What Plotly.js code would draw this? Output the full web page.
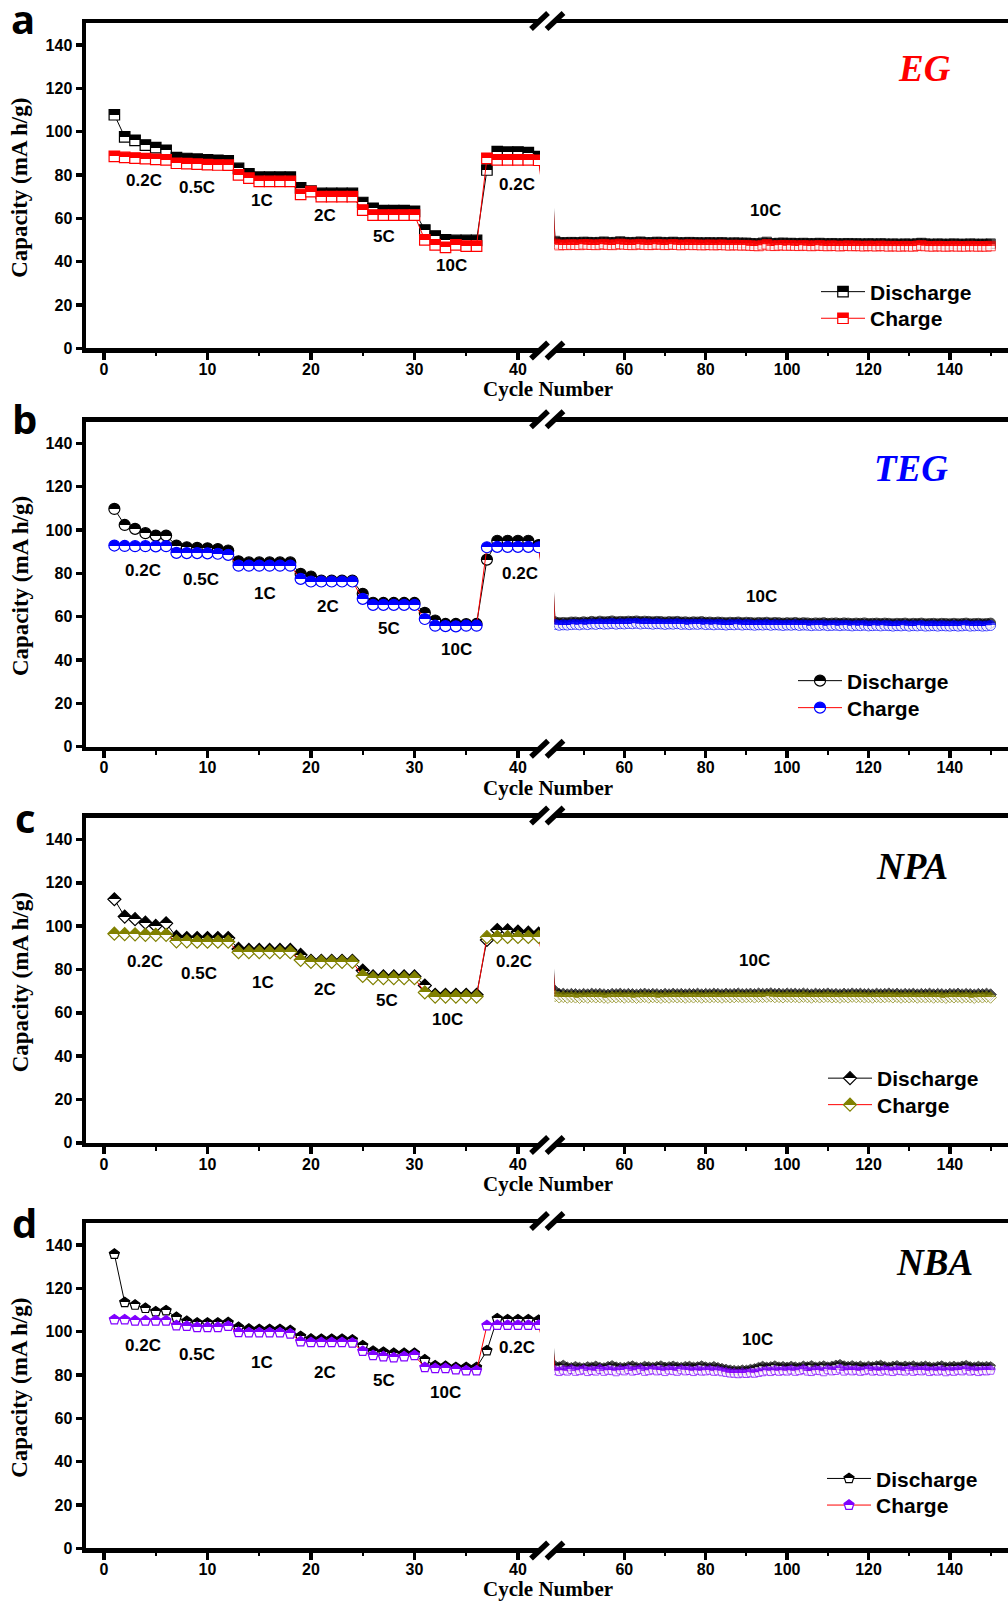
<!DOCTYPE html>
<html>
<head>
<meta charset="utf-8">
<script src="https://cdn.plot.ly/plotly-3.0.1.min.js"></script>
<style>
  html, body { margin: 0; padding: 0; background: #ffffff; }
  #chart { width: 1008px; height: 1602px; }
</style>
</head>
<body>
<div id="chart"></div>
<script>
// Rate capability of four electrolytes: capacity per cycle (mA h/g).
// Cycles 1-42 step through 0.2C, 0.5C, 1C, 2C, 5C, 10C, 0.2C (6 cycles each);
// cycles 43-150 are a long run at 10C.

const panelNames = ['EG', 'TEG', 'NPA', 'NBA'];
const panelLetters = ['a', 'b', 'c', 'd'];
const seriesNames = ['Discharge', 'Charge'];
const rateLabels = ['0.2C', '0.5C', '1C', '2C', '5C', '10C', '0.2C'];
const longRateLabel = '10C';
const leftTicks = [0, 10, 20, 30, 40];
const rightTicks = [60, 80, 100, 120, 140];
const capacityTicks = [0, 20, 40, 60, 80, 100, 120, 140];

const egDischarge = [
  107.8, 97.6, 96.0, 93.8, 92.6, 91.4,
  88.0, 87.6, 87.3, 87.0, 86.8, 86.5,
  83.0, 80.5, 79.0, 79.0, 79.0, 79.0,
  74.0, 72.5, 71.5, 71.5, 71.5, 71.5,
  67.3, 64.6, 63.5, 63.5, 63.5, 63.2,
  54.6, 51.8, 50.0, 49.8, 49.8, 49.8,
  82.3, 90.8, 90.5, 90.6, 90.3, 88.5,
  49.5, 48.8, 48.9, 48.8, 49.0, 48.9, 48.8, 49.1, 49.0, 48.9, 48.8, 49.0, 49.2, 48.9, 48.8, 49.0, 49.3, 49.0,
  48.9, 48.8, 49.0, 49.2, 48.9, 48.8, 48.9, 49.1, 49.0, 48.8, 48.9, 49.1, 48.9, 48.7, 48.9, 49.0, 48.8, 48.9, 48.7, 48.8,
  48.9, 48.7, 48.8, 48.9, 48.7, 48.6, 48.8, 48.7, 48.6, 48.7, 48.5, 48.4, 48.3, 48.7, 49.1, 48.5, 48.4, 48.6, 48.7, 48.5,
  48.6, 48.5, 48.4, 48.6, 48.5, 48.3, 48.5, 48.6, 48.4, 48.3, 48.5, 48.4, 48.2, 48.4, 48.5, 48.3, 48.4, 48.3, 48.2, 48.4,
  48.3, 48.2, 48.4, 48.3, 48.1, 48.3, 48.2, 48.1, 48.3, 48.2, 48.1, 48.4, 48.6, 48.3, 48.2, 48.1, 48.3, 48.2, 48.1, 48.2,
  48.3, 48.1, 48.2, 48.1, 48.3, 48.2, 48.1, 48.2, 48.1, 48.3
];
const egCharge = [
  88.6, 88.1, 87.8, 87.5, 87.2, 87.0,
  85.4, 85.2, 85.0, 84.8, 84.6, 84.5,
  80.0, 78.5, 77.0, 77.0, 77.0, 77.0,
  71.0, 72.3, 70.0, 70.0, 70.0, 70.0,
  63.8, 61.5, 61.5, 61.5, 61.5, 61.5,
  50.0, 47.7, 46.6, 47.7, 47.2, 47.2,
  87.7, 87.0, 87.0, 87.0, 87.0, 86.8,
  48.2, 47.6, 47.8, 47.7, 47.9, 47.8, 47.7, 48.0, 47.9, 47.8, 47.7, 47.9, 48.1, 47.8, 47.7, 47.9, 48.2, 47.9,
  47.8, 47.7, 47.9, 48.1, 47.8, 47.7, 47.8, 48.0, 47.9, 47.7, 47.8, 48.0, 47.8, 47.6, 47.8, 47.9, 47.7, 47.8, 47.6, 47.7,
  47.8, 47.6, 47.7, 47.8, 47.6, 47.5, 47.7, 47.6, 47.5, 47.6, 47.4, 47.3, 47.2, 47.6, 48.0, 47.4, 47.3, 47.5, 47.6, 47.4,
  47.5, 47.4, 47.3, 47.5, 47.4, 47.2, 47.4, 47.5, 47.3, 47.2, 47.4, 47.3, 47.1, 47.3, 47.4, 47.2, 47.3, 47.2, 47.1, 47.3,
  47.2, 47.1, 47.3, 47.2, 47.0, 47.2, 47.1, 47.0, 47.2, 47.1, 47.0, 47.3, 47.5, 47.2, 47.1, 47.0, 47.2, 47.1, 47.0, 47.1,
  47.2, 47.0, 47.1, 47.0, 47.2, 47.1, 47.0, 47.1, 47.0, 47.2
];

const tegDischarge = [
  109.7, 102.3, 100.5, 98.5, 97.4, 97.4,
  92.8, 92.0, 91.7, 91.5, 91.2, 90.5,
  85.5, 85.0, 85.0, 85.0, 85.0, 85.0,
  79.7, 78.5, 76.6, 76.6, 76.6, 76.6,
  70.5, 66.4, 66.3, 66.3, 66.3, 66.3,
  61.7, 58.2, 56.6, 56.6, 56.5, 56.6,
  86.3, 95.0, 95.0, 95.0, 95.0, 93.0,
  57.6, 57.2, 57.3, 57.2, 57.5, 57.5, 57.3, 57.6, 57.4, 57.8, 57.5, 57.9, 57.6, 57.7, 58.0, 57.6, 57.8, 57.7,
  57.9, 57.8, 58.0, 57.7, 57.9, 57.8, 57.6, 57.8, 57.7, 57.5, 57.7, 57.6, 57.8, 57.5, 57.6, 57.4, 57.6, 57.5, 57.7, 57.4,
  57.5, 57.3, 57.5, 57.4, 57.2, 57.4, 57.3, 57.5, 57.2, 57.4, 57.3, 57.1, 57.3, 57.2, 57.4, 57.1, 57.3, 57.2, 57.0, 57.2,
  57.1, 57.3, 57.0, 57.2, 57.1, 56.9, 57.1, 57.0, 57.2, 56.9, 57.0, 57.1, 56.9, 57.1, 57.0, 56.8, 57.0, 56.9, 57.1, 56.8,
  56.9, 57.0, 56.8, 57.0, 56.9, 56.7, 56.9, 56.8, 57.0, 56.7, 56.9, 56.8, 57.0, 56.7, 56.8, 56.9, 56.7, 56.9, 56.8, 56.7,
  56.9, 56.7, 56.8, 57.0, 56.7, 56.8, 56.9, 56.7, 56.8, 57.0
];
const tegCharge = [
  92.8, 92.6, 92.5, 92.5, 92.4, 92.5,
  89.4, 89.3, 89.3, 89.2, 89.0, 88.5,
  83.5, 83.5, 83.5, 83.5, 83.5, 83.5,
  77.4, 76.2, 76.2, 76.2, 76.2, 76.2,
  68.2, 65.4, 65.4, 65.4, 65.4, 65.4,
  58.9, 55.8, 55.6, 55.5, 55.8, 55.8,
  92.0, 92.2, 92.2, 92.2, 92.2, 92.0,
  56.4, 56.0, 56.2, 56.1, 56.3, 56.4, 56.2, 56.5, 56.3, 56.6, 56.4, 56.7, 56.5, 56.6, 56.8, 56.5, 56.7, 56.6,
  56.8, 56.7, 56.9, 56.6, 56.8, 56.7, 56.5, 56.7, 56.6, 56.4, 56.6, 56.5, 56.7, 56.4, 56.5, 56.3, 56.5, 56.4, 56.6, 56.3,
  56.4, 56.2, 56.4, 56.3, 56.1, 56.3, 56.2, 56.4, 56.1, 56.3, 56.2, 56.0, 56.2, 56.1, 56.3, 56.0, 56.2, 56.1, 55.9, 56.1,
  56.0, 56.2, 55.9, 56.1, 56.0, 55.8, 56.0, 55.9, 56.1, 55.8, 55.9, 56.0, 55.8, 56.0, 55.9, 55.7, 55.9, 55.8, 56.0, 55.7,
  55.8, 55.9, 55.7, 55.9, 55.8, 55.6, 55.8, 55.7, 55.9, 55.6, 55.8, 55.7, 55.9, 55.6, 55.7, 55.8, 55.6, 55.8, 55.7, 55.6,
  55.8, 55.6, 55.7, 55.9, 55.6, 55.7, 55.8, 55.6, 55.7, 55.9
];

const npaDischarge = [
  112.4, 104.4, 103.2, 101.6, 100.1, 101.3,
  95.0, 94.5, 94.5, 94.5, 94.5, 94.5,
  89.5, 89.0, 89.0, 89.0, 89.0, 89.0,
  86.7, 84.0, 84.0, 84.0, 84.0, 84.0,
  79.5, 76.8, 76.8, 76.8, 76.8, 76.8,
  72.6, 68.3, 68.3, 68.3, 68.3, 68.3,
  93.6, 98.2, 98.0, 97.5, 97.0, 96.5,
  70.0, 68.6, 68.7, 68.4, 68.6, 68.5, 68.3, 68.6, 68.4, 68.7, 68.5, 68.6, 68.4, 68.3, 68.6, 68.5, 68.7, 68.4,
  68.6, 68.5, 68.3, 68.5, 68.7, 68.4, 68.6, 68.5, 68.3, 68.6, 68.4, 68.7, 68.5, 68.6, 68.4, 68.6, 68.5, 68.7, 68.4, 68.6,
  68.5, 68.7, 68.6, 68.4, 68.7, 68.5, 68.6, 68.8, 68.5, 68.6, 68.7, 68.5, 68.8, 68.6, 68.7, 68.9, 68.6, 68.7, 68.5, 68.8,
  68.6, 68.7, 68.5, 68.8, 68.6, 68.4, 68.7, 68.5, 68.6, 68.8, 68.5, 68.6, 68.4, 68.7, 68.5, 68.8, 68.6, 68.7, 68.5, 68.6,
  68.4, 68.7, 68.5, 68.6, 68.8, 68.5, 68.7, 68.4, 68.6, 68.5, 68.7, 68.4, 68.6, 68.5, 68.7, 68.4, 68.6, 68.5, 68.3, 68.6,
  68.5, 68.7, 68.4, 68.6, 68.5, 68.3, 68.6, 68.5, 68.7, 68.4
];
const npaCharge = [
  96.5, 96.3, 96.2, 96.0, 96.0, 96.0,
  93.0, 93.0, 92.8, 92.8, 92.8, 92.8,
  88.0, 88.0, 88.0, 88.0, 88.0, 88.0,
  84.4, 83.5, 83.5, 83.5, 83.5, 83.5,
  77.0, 76.0, 76.0, 76.0, 76.0, 76.0,
  69.4, 67.5, 67.5, 67.5, 67.5, 67.5,
  94.9, 95.0, 95.0, 95.0, 95.0, 95.0,
  67.8, 67.2, 67.4, 67.1, 67.3, 67.2, 67.0, 67.3, 67.1, 67.4, 67.2, 67.3, 67.1, 67.0, 67.3, 67.2, 67.4, 67.1,
  67.3, 67.2, 67.0, 67.2, 67.4, 67.1, 67.3, 67.2, 67.0, 67.3, 67.1, 67.4, 67.2, 67.3, 67.1, 67.3, 67.2, 67.4, 67.1, 67.3,
  67.2, 67.4, 67.3, 67.1, 67.4, 67.2, 67.3, 67.5, 67.2, 67.3, 67.4, 67.2, 67.5, 67.3, 67.4, 67.6, 67.3, 67.4, 67.2, 67.5,
  67.3, 67.4, 67.2, 67.5, 67.3, 67.1, 67.4, 67.2, 67.3, 67.5, 67.2, 67.3, 67.1, 67.4, 67.2, 67.5, 67.3, 67.4, 67.2, 67.3,
  67.1, 67.4, 67.2, 67.3, 67.5, 67.2, 67.4, 67.1, 67.3, 67.2, 67.4, 67.1, 67.3, 67.2, 67.4, 67.1, 67.3, 67.2, 67.0, 67.3,
  67.2, 67.4, 67.1, 67.3, 67.2, 67.0, 67.3, 67.2, 67.4, 67.1
];

const nbaDischarge = [
  135.8, 113.5, 112.3, 110.8, 109.2, 109.7,
  106.6, 104.8, 104.0, 104.0, 104.0, 104.2,
  102.0, 101.2, 101.0, 101.0, 101.0, 100.5,
  97.8, 96.6, 96.5, 96.5, 96.5, 96.2,
  93.5, 91.0, 90.5, 90.0, 90.0, 90.0,
  87.0, 84.3, 84.0, 83.5, 83.5, 83.5,
  91.2, 106.0, 105.5, 105.5, 105.5, 105.3,
  84.2, 83.8, 84.5, 83.6, 83.4, 83.9, 83.5, 83.2, 83.8, 83.6, 84.1, 83.5, 83.3, 83.9, 84.3, 83.7, 83.5, 83.4,
  83.9, 84.2, 83.6, 83.4, 84.0, 83.8, 83.5, 83.9, 84.2, 83.6, 83.8, 84.1, 83.7, 83.5, 83.9, 84.0, 83.6, 83.8, 84.2, 83.7,
  83.5, 83.9, 83.4, 83.0, 82.6, 82.3, 82.1, 82.0, 82.3, 82.2, 82.6, 82.9, 83.5, 84.0, 83.6, 83.8, 84.2, 83.7, 83.9, 83.6,
  84.0, 83.7, 83.5, 84.1, 83.8, 84.3, 83.6, 83.9, 84.2, 83.7, 84.0, 84.5, 84.8, 84.2, 83.9, 84.3, 83.8, 84.1, 83.6, 84.0,
  83.8, 84.2, 84.5, 83.9, 83.6, 84.0, 84.3, 83.7, 84.1, 83.8, 84.2, 83.6, 83.9, 84.1, 83.7, 83.5, 83.9, 84.2, 83.6, 83.8,
  84.0, 83.7, 84.1, 84.4, 83.8, 83.6, 84.0, 83.7, 83.9, 83.8
];
const nbaCharge = [
  105.5, 105.5, 105.0, 105.0, 105.0, 105.0,
  102.8, 102.5, 102.0, 102.0, 102.0, 102.5,
  99.7, 99.5, 99.5, 99.5, 99.5, 99.0,
  95.4, 95.0, 95.0, 95.0, 95.0, 94.8,
  91.0, 89.0, 88.5, 88.0, 88.5, 89.0,
  83.5, 83.0, 83.0, 82.5, 82.0, 82.0,
  102.8, 103.0, 103.0, 103.0, 103.0, 103.0,
  82.0, 81.6, 82.2, 81.8, 82.5, 81.7, 82.0, 82.4, 81.6, 82.1, 81.8, 82.6, 81.7, 82.2, 82.0, 81.5, 82.3, 81.9,
  82.5, 81.8, 82.1, 82.6, 81.7, 82.0, 82.4, 81.9, 82.2, 81.6, 82.3, 82.0, 81.7, 82.4, 81.9, 82.1, 81.6, 82.2, 81.8, 81.9,
  82.2, 81.7, 81.9, 81.5, 81.2, 80.9, 80.8, 80.6, 80.9, 80.7, 81.0, 80.8, 81.2, 81.5, 81.9, 81.6, 82.1, 81.7, 82.0, 81.8,
  82.3, 81.7, 82.0, 82.5, 81.8, 81.6, 82.2, 82.0, 81.5, 82.4, 81.9, 82.1, 82.8, 81.8, 82.3, 81.9, 82.2, 81.7, 82.0, 82.4,
  81.8, 82.1, 81.7, 82.3, 81.9, 81.6, 82.2, 82.0, 81.8, 82.4, 81.7, 82.1, 81.9, 82.3, 81.6, 82.0, 81.8, 82.2, 81.5, 82.0,
  81.7, 82.2, 81.9, 82.4, 81.8, 82.1, 81.6, 82.0, 81.9, 82.2
];

const dischargeSeries = [egDischarge, tegDischarge, npaDischarge, nbaDischarge];
const chargeSeries = [egCharge, tegCharge, npaCharge, nbaCharge];

// ---- styling ----
const W = 1008, H = 1602;
const SANS = 'Liberation Sans, Arial, sans-serif';
const SERIF = 'Liberation Serif, Times New Roman, serif';
const chargeColors = ['#ff0000', '#0000ff', '#808000', '#8000ff'];
const titleColors = ['#ff0000', '#0000ff', '#000000', '#000000'];
const symbols = ['square', 'circle', 'diamond', 'pentagon'];
const sizeLeft = [10.5, 11, 10, 10.5];
const sizeRight = [9.5, 10, 9, 10];

// frame geometry in pixels
const FRAME_LEFT = 86, BREAK_LEFT = 540, BREAK_RIGHT = 554.3;
const panelTop = [23.3, 421.6, 817.8, 1223.3];
const PANEL_H = 325;
const LEFT_RANGE = [-1.74, 42.13];
const RIGHT_RANGE = [42.8, 154.28];
const LINE_W = 4.5;

const fx = p => p / W;
const fy = p => 1 - p / H;

// rate-label placements (cycle, capacity) per panel
const rateLabelPos = [
  [[3.9, 77.3], [9.0, 74], [15.3, 68], [21.4, 61.5], [27.1, 51.4], [33.6, 38], [39.9, 75.8]],
  [[3.8, 81.5], [9.4, 76.9], [15.6, 70.7], [21.6, 64.6], [27.5, 54.3], [34.1, 44.8], [40.2, 80]],
  [[4.0, 83.8], [9.2, 78.2], [15.4, 74], [21.4, 70.7], [27.3, 65.5], [33.2, 57], [39.6, 83.9]],
  [[3.8, 93.7], [9.0, 89.5], [15.3, 85.8], [21.4, 81.1], [27.1, 77.3], [33.0, 72.1], [39.9, 92.9]]
];
const longLabelPos = [[94.8, 63.8], [93.6, 69.3], [92.1, 84.1], [92.8, 96.6]];
const nameLabelPx = [[924, 68.4], [911, 468], [912, 866], [934.5, 1262]];
const letterPx = [[23, 18.5], [24.5, 419], [25.5, 817], [24.5, 1222.5]];
// legend marker centre x and row centres y (Discharge, Charge)
const legendPx = [[839, 291, 317.6], [816, 680, 707], [846, 1077.5, 1104], [845, 1477.8, 1504.4]];

const traces = [];
const layout = {
  width: W, height: H,
  margin: {l: 0, r: 0, t: 0, b: 0},
  paper_bgcolor: '#ffffff', plot_bgcolor: '#ffffff',
  showlegend: true,
  annotations: [], shapes: []
};

function tickFont() { return {family: SANS, size: 16, weight: 700, color: '#000'}; }

panelNames.forEach((name, p) => {
  const xl = 'x' + (2 * p + 1), xr = 'x' + (2 * p + 2), ya = 'y' + (p + 1);
  const xlKey = 'xaxis' + (p === 0 ? '' : (2 * p + 1));
  const xrKey = 'xaxis' + (2 * p + 2);
  const yKey = 'yaxis' + (p === 0 ? '' : (p + 1));
  const top = panelTop[p], bottom = top + PANEL_H;

  layout[yKey] = {
    domain: [fy(bottom), fy(top)], range: [0, 150], anchor: xl,
    showline: true, linewidth: LINE_W, linecolor: '#000',
    ticks: 'outside', ticklen: 6, tickwidth: 3.5, tickcolor: '#000',
    tickvals: capacityTicks, tickfont: tickFont(),
    showgrid: false, zeroline: false
  };
  const xCommon = {
    anchor: ya, showline: true, mirror: true, linewidth: LINE_W, linecolor: '#000',
    ticks: 'outside', ticklen: 7, tickwidth: 3.5, tickcolor: '#000',
    ticklabelstandoff: -4, tickfont: tickFont(),
    showgrid: false, zeroline: false
  };
  layout[xlKey] = Object.assign({}, xCommon, {
    domain: [fx(FRAME_LEFT), fx(BREAK_LEFT)], range: LEFT_RANGE, tickvals: leftTicks,
    minor: {tick0: 0, dtick: 5, ticks: 'outside', ticklen: 3.5, tickwidth: 2, tickcolor: '#000'}
  });
  layout[xrKey] = Object.assign({}, xCommon, {
    domain: [fx(BREAK_RIGHT), 1], range: RIGHT_RANGE, tickvals: rightTicks,
    minor: {tick0: 0, dtick: 10, ticks: 'outside', ticklen: 3.5, tickwidth: 2, tickcolor: '#000'}
  });

  const series = [dischargeSeries[p], chargeSeries[p]];
  series.forEach((vals, s) => {
    const legendIdx = 2 * p + s + 1;
    const legendKey = 'legend' + (legendIdx === 1 ? '' : legendIdx);
    layout[legendKey] = {
      x: fx(legendPx[p][0] - 23), y: fy(legendPx[p][1 + s] - 19.5),
      xanchor: 'left', yanchor: 'top',
      bgcolor: 'rgba(0,0,0,0)', borderwidth: 0, itemwidth: 44,
      font: {family: SANS, size: 21, weight: 700, color: '#000'}
    };
    const fill = s === 0 ? '#000000' : chargeColors[p];
    const lineColor = s === 0 ? '#000000' : '#ff0000';
    const cycles = vals.map((_, i) => i + 1);
    const common = {
      type: 'scatter', mode: 'lines+markers', name: seriesNames[s],
      line: {color: lineColor, width: 1},
      legend: legendKey, yaxis: ya, hoverinfo: 'skip'
    };
    // rate-step section: cycles 1-43 on the left axis
    traces.push(Object.assign({}, common, {
      x: cycles.slice(0, 43), y: vals.slice(0, 43), xaxis: xl,
      showlegend: true,
      marker: {symbol: symbols[p], size: sizeLeft[p], color: fill,
               gradient: {type: 'vertical', color: '#ffffff'},
               line: {color: fill, width: 1.2}}
    }));
    // long 10C run: cycles 42-150 on the right axis (cycle 42 only carries the joining line)
    const rightVals = vals.slice(41);
    traces.push(Object.assign({}, common, {
      x: cycles.slice(41), y: rightVals, xaxis: xr,
      showlegend: false,
      marker: {symbol: symbols[p], size: rightVals.map((_, i) => (i === 0 ? 0 : sizeRight[p])),
               color: fill, gradient: {type: 'vertical', color: '#ffffff'},
               line: {color: fill, width: 1}}
    }));
  });

  // rate labels
  rateLabels.forEach((txt, k) => {
    layout.annotations.push({
      text: txt, x: rateLabelPos[p][k][0], y: rateLabelPos[p][k][1], xref: xl, yref: ya,
      showarrow: false, xanchor: 'center', yanchor: 'middle',
      font: {family: SANS, size: 17, weight: 700, color: '#000'}
    });
  });
  layout.annotations.push({
    text: longRateLabel, x: longLabelPos[p][0], y: longLabelPos[p][1], xref: xr, yref: ya,
    showarrow: false, xanchor: 'center', yanchor: 'middle',
    font: {family: SANS, size: 17, weight: 700, color: '#000'}
  });

  // electrolyte name
  layout.annotations.push({
    text: '<i>' + name + '</i>', x: fx(nameLabelPx[p][0]), y: fy(nameLabelPx[p][1]),
    xref: 'paper', yref: 'paper', showarrow: false, xanchor: 'center', yanchor: 'middle',
    font: {family: SERIF, size: 37, weight: 700, color: titleColors[p]}
  });
  // panel letter
  layout.annotations.push({
    text: panelLetters[p], x: fx(letterPx[p][0]), y: fy(letterPx[p][1]),
    xref: 'paper', yref: 'paper', showarrow: false, xanchor: 'center', yanchor: 'middle',
    font: {family: 'Open Sans, sans-serif', size: 40, weight: 700, color: '#000'}
  });
  // axis titles
  layout.annotations.push({
    text: 'Capacity (mA h/g)', x: fx(20), y: fy(top + PANEL_H / 2 + 2),
    xref: 'paper', yref: 'paper', showarrow: false, textangle: -90,
    xanchor: 'center', yanchor: 'middle',
    font: {family: SERIF, size: 23, weight: 700, color: '#000'}
  });
  layout.annotations.push({
    text: 'Cycle Number', x: fx(548), y: fy(bottom + 41),
    xref: 'paper', yref: 'paper', showarrow: false,
    xanchor: 'center', yanchor: 'middle',
    font: {family: SERIF, size: 21, weight: 700, color: '#000'}
  });

  // axis-break marks on the top and bottom frame lines
  [top - LINE_W / 2, bottom + LINE_W / 2].forEach(yLine => {
    [539.5, 555].forEach(xc => {
      layout.shapes.push({
        type: 'line', xref: 'paper', yref: 'paper',
        x0: fx(xc - 8.5), y0: fy(yLine + 8), x1: fx(xc + 8.5), y1: fy(yLine - 8),
        line: {color: '#000', width: 5.5}
      });
    });
  });
});

Plotly.newPlot('chart', traces, layout, {staticPlot: true, displayModeBar: false}).then(gd => {
  // split each marker gradient into a hard-edged upper/lower half fill
  gd.querySelectorAll('linearGradient').forEach(g => {
    const stops = g.querySelectorAll('stop');
    if (stops.length !== 2) return;
    const lower = stops[0].cloneNode(true);
    lower.setAttribute('offset', '50%');
    const upper = stops[1].cloneNode(true);
    upper.setAttribute('offset', '50%');
    g.insertBefore(lower, stops[1]);
    g.insertBefore(upper, stops[1]);
  });
});
</script>
</body>
</html>
